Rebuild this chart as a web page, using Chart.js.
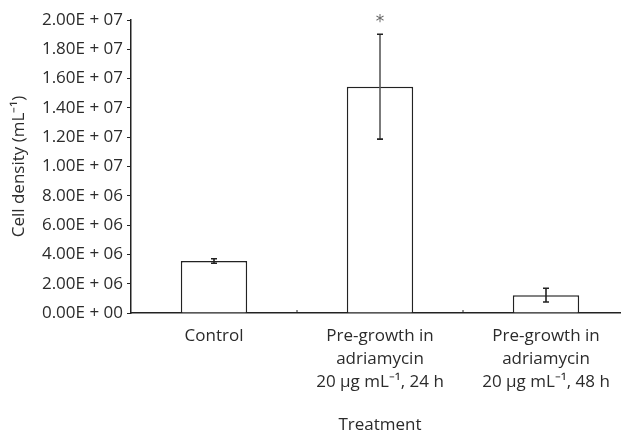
<!DOCTYPE html>
<html>
<head>
<meta charset="utf-8">
<script src="https://cdn.jsdelivr.net/npm/chart.js@4/dist/chart.umd.min.js"></script>
<style>
  html, body { margin: 0; padding: 0; overflow: hidden; background: #fff; }
  #grafico { display: block; }
</style>
</head>
<body>
<canvas id="grafico" width="629" height="435" style="width:629px;height:435px"></canvas>
<script>
// dados
const categories = [
  'Control',
  ['Pre-growth in', 'adriamycin', '20 μg mL⁻¹, 24 h'],
  ['Pre-growth in', 'adriamycin', '20 μg mL⁻¹, 48 h']
]
const meanValues = [3.55e6, 15.45e6, 1.22e6]
const errorValues = [0.15e6, 3.58e6, 0.47e6]
const marks = ['', '*', '']
const yTicks = [0, 2e6, 4e6, 6e6, 8e6, 1e7, 1.2e7, 1.4e7, 1.6e7, 1.8e7, 2e7]

const textColor = '#2b2b2b'
const lineColor = '#222'

Chart.defaults.font.family = "'Open Sans', sans-serif"
Chart.defaults.font.size = 17
Chart.defaults.color = textColor

function sciLabel(v) {
  v = Math.round(v)
  const exp = v === 0 ? 0 : Math.floor(Math.log10(v) + 1e-9)
  const mant = v / Math.pow(10, exp)
  return mant.toFixed(2) + 'E + ' + String(exp).padStart(2, '0')
}

// barras de erro, asterisco e pequenos ticks entre categorias
const extras = {
  id: 'extras',
  afterDatasetsDraw(chart) {
    const c = chart.ctx
    const x = chart.scales.x
    const y = chart.scales.y
    const meta = chart.getDatasetMeta(0)
    c.save()
    meta.data.forEach((bar, i) => {
      const top = y.getPixelForValue(meanValues[i] + errorValues[i])
      const bot = y.getPixelForValue(meanValues[i] - errorValues[i])
      c.strokeStyle = i === 1 ? '#5a5a5a' : lineColor
      c.lineWidth = 1.6
      c.beginPath()
      c.moveTo(bar.x, top)
      c.lineTo(bar.x, bot)
      c.stroke()
      c.strokeStyle = lineColor
      c.beginPath()
      c.moveTo(bar.x - 3, top); c.lineTo(bar.x + 3, top)
      c.moveTo(bar.x - 3, bot); c.lineTo(bar.x + 3, bot)
      c.stroke()
      if (marks[i]) {
        c.fillStyle = '#666'
        c.font = "17px 'DejaVu Sans', sans-serif"
        c.textAlign = 'center'
        c.textBaseline = 'middle'
        c.fillText(marks[i], bar.x, top - 12)
      }
    })
    // ticks curtos entre as categorias
    c.strokeStyle = lineColor
    c.lineWidth = 1
    for (let i = 1; i < categories.length; i++) {
      const px = (x.getPixelForValue(i - 1) + x.getPixelForValue(i)) / 2
      c.beginPath()
      c.moveTo(px, y.bottom)
      c.lineTo(px, y.bottom - 3)
      c.stroke()
    }
    c.restore()
  }
}

const data = {
  labels: categories,
  datasets: [{
    data: meanValues,
    backgroundColor: '#fff',
    borderColor: lineColor,
    borderWidth: 1.5,
    barPercentage: 0.4,
    categoryPercentage: 1
  }]
}

const config = {
  type: 'bar',
  data,
  options: {
    responsive: false,
    animation: false,
    layout: { padding: { top: 20, left: 0, right: 0, bottom: 0 } },
    plugins: {
      legend: { display: false },
      tooltip: { enabled: false }
    },
    scales: {
      x: {
        grid: { display: false, drawTicks: false },
        border: { display: true, color: lineColor, width: 1.5 },
        ticks: {
          padding: 12,
          maxRotation: 0,
          autoSkip: false,
          color: textColor,
          font: { size: 17, lineHeight: '23px' }
        },
        title: {
          display: true,
          text: 'Treatment',
          color: textColor,
          font: { size: 17 },
          padding: { top: 0, bottom: 0 }
        },
        afterFit(scale) { scale.height = 122 }
      },
      y: {
        min: 0,
        max: 2e7,
        afterBuildTicks(scale) { scale.ticks = yTicks.map(v => ({ value: v })) },
        grid: { drawOnChartArea: false, drawTicks: true, tickLength: 4, color: lineColor },
        border: { display: true, color: lineColor, width: 1.5 },
        ticks: {
          padding: 4,
          color: textColor,
          callback: v => sciLabel(v)
        },
        title: {
          display: true,
          text: 'Cell density (mL⁻¹)',
          color: textColor,
          font: { size: 17 },
          padding: { top: 9, bottom: 0 }
        },
        afterFit(scale) { scale.width = 131 }
      }
    }
  },
  plugins: [extras]
}

const graph = new Chart(document.getElementById('grafico'), config)
</script>
</body>
</html>
